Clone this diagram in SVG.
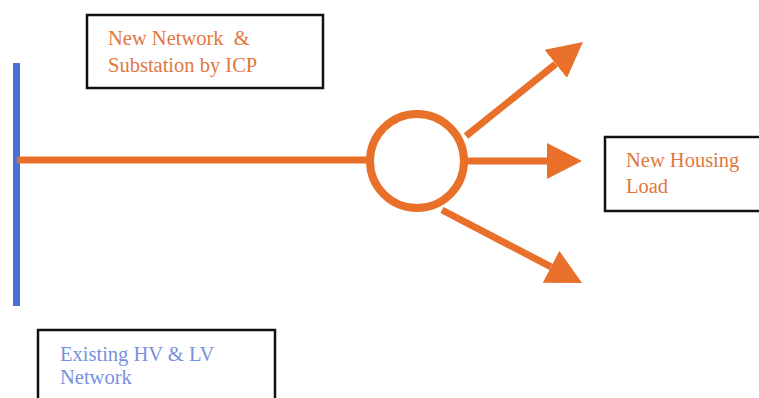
<svg xmlns="http://www.w3.org/2000/svg" width="759" height="398" viewBox="0 0 759 398">
<style>
.box{fill:#fff;stroke:#111;stroke-width:2.5}
text{white-space:pre}
.ot{font-family:"Liberation Serif",serif;font-size:20.5px;fill:#E2773D}
.bt{font-family:"Liberation Serif",serif;font-size:20.5px;fill:#7890E0}
.wire{stroke:#E8702A;stroke-width:7;fill:none}
</style>
<defs>
<marker id="ah" viewBox="0 0 35 36" refX="0" refY="18" markerWidth="35" markerHeight="36" markerUnits="userSpaceOnUse" orient="auto">
<path d="M0,0 L35,18 L0,36 Z" fill="#E8702A"/>
</marker>
</defs>
<rect width="759" height="398" fill="#fff"/>
<g id="busbar"><rect x="13" y="63" width="7" height="243" fill="#4A6FD6"/></g>
<g id="connectors">
<line class="wire" x1="17" y1="160" x2="372" y2="160"/>
<line class="wire" x1="466" y1="136" x2="555.7" y2="63.9" marker-end="url(#ah)"/>
<line class="wire" x1="466" y1="161" x2="547" y2="161" marker-end="url(#ah)"/>
<line class="wire" x1="442" y1="210" x2="551" y2="266.8" marker-end="url(#ah)"/>
</g>
<g id="substation"><circle cx="417" cy="161" r="47" fill="#fff" stroke="#E8702A" stroke-width="8"/></g>
<g id="label-icp">
<rect class="box" x="87" y="15" width="236" height="73"/>
<text class="ot" x="108" y="45" xml:space="preserve">New Network  &amp;</text>
<text class="ot" x="108" y="72">Substation by ICP</text>
</g>
<g id="label-load">
<rect class="box" x="605" y="137" width="160" height="74"/>
<text class="ot" x="626" y="167">New Housing</text>
<text class="ot" x="626" y="193">Load</text>
</g>
<g id="label-existing">
<rect class="box" x="38" y="330" width="237" height="80"/>
<text class="bt" x="60" y="361">Existing HV &amp; LV</text>
<text class="bt" x="60" y="384">Network</text>
</g>
</svg>
